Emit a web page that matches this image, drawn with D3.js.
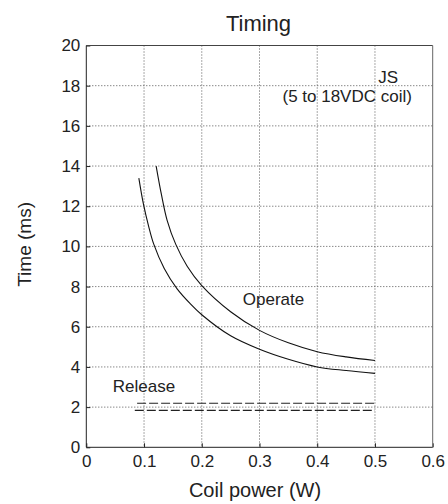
<!DOCTYPE html>
<html>
<head>
<meta charset="utf-8">
<script src="https://cdn.jsdelivr.net/npm/d3@7"></script>
<style>
  html, body { margin: 0; padding: 0; background: #fff; }
  svg { display: block; }
  text { font-family: "Liberation Sans", Arial, sans-serif; fill: #222; }
</style>
</head>
<body>
<svg id="chart" width="448" height="504"></svg>
<script>
// ---- data ----
const xTicks = [0, 0.1, 0.2, 0.3, 0.4, 0.5, 0.6];
const yTicks = [0, 2, 4, 6, 8, 10, 12, 14, 16, 18, 20];

// Operate (upper curve)
const operateHighX = [0.121, 0.130, 0.140, 0.155, 0.175, 0.200, 0.250, 0.300, 0.350, 0.400, 0.450, 0.500];
const operateHighY = [14.0, 12.6, 11.3, 10.1, 9.0, 8.05, 6.75, 5.82, 5.2, 4.76, 4.5, 4.32];
// Operate (lower curve)
const operateLowX = [0.091, 0.099, 0.108, 0.117, 0.135, 0.157, 0.180, 0.200, 0.250, 0.300, 0.350, 0.400, 0.450, 0.500];
const operateLowY = [13.4, 12.1, 11.0, 10.1, 8.9, 7.9, 7.15, 6.6, 5.55, 4.88, 4.38, 4.0, 3.82, 3.68];
// Release (dashed)
const releaseHighX = [0.088, 0.5];
const releaseHighY = [2.19, 2.19];
const releaseLowX = [0.084, 0.5];
const releaseLowY = [1.84, 1.84];

const annotations = [
  { text: "JS", x: 0.54, y: 18.13, anchor: "end" },
  { text: "(5 to 18VDC coil)", x: 0.564, y: 17.2, anchor: "end" },
  { text: "Operate", x: 0.271, y: 7.08, anchor: "start" },
  { text: "Release", x: 0.046, y: 2.75, anchor: "start" }
];

// ---- layout ----
const svg = d3.select("#chart");
const L = 86.3, R = 432.7, T = 45.5, B = 447.3;
const x = d3.scaleLinear().domain([0, 0.6]).range([L, R]);
const y = d3.scaleLinear().domain([0, 20]).range([B, T]);

// grid
const g = svg.append("g");
g.selectAll(".vg").data(xTicks.slice(1, -1)).enter().append("line")
  .attr("x1", d => x(d)).attr("x2", d => x(d)).attr("y1", T).attr("y2", B)
  .attr("stroke", "#555").attr("stroke-width", 1).attr("stroke-dasharray", "1,2");
g.selectAll(".hg").data(yTicks.slice(1, -1)).enter().append("line")
  .attr("y1", d => y(d)).attr("y2", d => y(d)).attr("x1", L).attr("x2", R)
  .attr("stroke", "#555").attr("stroke-width", 1).attr("stroke-dasharray", "1,2");

// axes
const xAxis = d3.axisBottom(x).tickValues(xTicks).tickSize(-4).tickPadding(8)
  .tickFormat(d => d === 0 ? "0" : d3.format(".1f")(d));
const yAxis = d3.axisLeft(y).tickValues(yTicks).tickSize(-4).tickPadding(6)
  .tickFormat(d3.format("d"));
const xa = svg.append("g").attr("transform", `translate(0,${B})`).call(xAxis);
const ya = svg.append("g").attr("transform", `translate(${L},0)`).call(yAxis);
[xa, ya].forEach(a => {
  a.select(".domain").remove();
  a.selectAll("line").attr("stroke", "#222");
  a.selectAll("text").style("font-size", "17px").attr("fill", "#222")
    .style("font-family", '"Liberation Sans", Arial, sans-serif');
});

// frame
svg.append("line").attr("x1", L).attr("x2", R).attr("y1", T).attr("y2", T).attr("stroke", "#444");
svg.append("line").attr("x1", R).attr("x2", R).attr("y1", T).attr("y2", B).attr("stroke", "#666");
svg.append("line").attr("x1", L).attr("x2", L).attr("y1", T).attr("y2", B).attr("stroke", "#222");
svg.append("line").attr("x1", L).attr("x2", R).attr("y1", B).attr("y2", B).attr("stroke", "#222");

// curves
const line = d3.line().x(d => x(d[0])).y(d => y(d[1])).curve(d3.curveCatmullRom.alpha(0.5));
function series(xs, ys) { return xs.map((v, i) => [v, ys[i]]); }
svg.append("path").datum(series(operateHighX, operateHighY)).attr("d", line)
  .attr("fill", "none").attr("stroke", "#111").attr("stroke-width", 1.1);
svg.append("path").datum(series(operateLowX, operateLowY)).attr("d", line)
  .attr("fill", "none").attr("stroke", "#111").attr("stroke-width", 1.1);
svg.append("path").datum(series(releaseHighX, releaseHighY)).attr("d", line)
  .attr("fill", "none").attr("stroke", "#222").attr("stroke-width", 1.1).attr("stroke-dasharray", "9,3");
svg.append("path").datum(series(releaseLowX, releaseLowY)).attr("d", line)
  .attr("fill", "none").attr("stroke", "#222").attr("stroke-width", 1.1).attr("stroke-dasharray", "9,3");

// annotations
svg.selectAll(".ann").data(annotations).enter().append("text")
  .attr("x", d => x(d.x)).attr("y", d => y(d.y)).attr("text-anchor", d => d.anchor)
  .style("font-size", "17px").text(d => d.text);

// titles
svg.append("text").attr("x", (L + R) / 2 - 1).attr("y", 31).attr("text-anchor", "middle")
  .style("font-size", "22px").text("Timing");
svg.append("text").attr("x", 255).attr("y", 497).attr("text-anchor", "middle")
  .style("font-size", "20px").text("Coil power (W)");
svg.append("text").attr("transform", `translate(31,${(T + B) / 2 - 2}) rotate(-90)`)
  .attr("text-anchor", "middle").style("font-size", "19px").text("Time (ms)");
</script>
</body>
</html>
